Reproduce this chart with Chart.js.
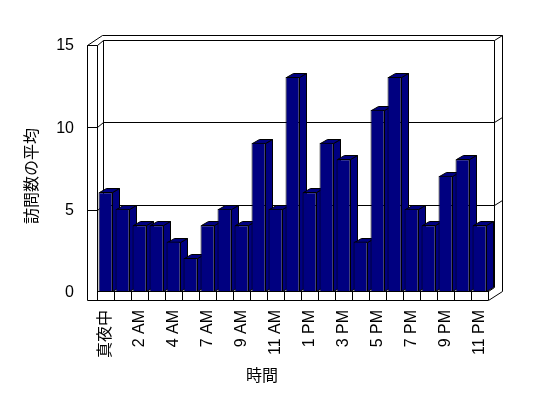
<!DOCTYPE html>
<html>
<head>
<meta charset="utf-8">
<script src="https://cdn.jsdelivr.net/npm/chart.js@4/dist/chart.umd.min.js"></script>
<style>
  html, body { margin: 0; padding: 0; background: #fff; }
  canvas { display: block; }
</style>
</head>
<body>
<canvas id="chart" width="548" height="398"></canvas>
<script>
// hours 0..23, 6 AM is missing in the source data
const hours = ["真夜中", "1 AM", "2 AM", "3 AM", "4 AM", "5 AM", "7 AM", "8 AM", "9 AM", "10 AM", "11 AM", "正午",
  "1 PM", "2 PM", "3 PM", "4 PM", "5 PM", "6 PM", "7 PM", "8 PM", "9 PM", "10 PM", "11 PM"];
const visits = [6, 5, 4, 4, 3, 2, 4, 5, 4, 9, 5, 13, 6, 9, 8, 3, 11, 13, 5, 4, 7, 8, 4];
const yTicks = [0, 5, 10, 15];

const BAR_COLOR = "#000080";
const FONT = '"Liberation Sans", "Noto Sans CJK JP", sans-serif';
const px = (v) => Math.round(v) + 0.5;

// walls, floor, back-wall gridlines and the depth faces of the bars
const frame3d = {
  id: "frame3d",
  beforeDatasetsDraw(chart) {
    const { ctx, chartArea: a, scales: { y } } = chart;
    const L = a.left, R = a.right, B = a.bottom, F = B + 9, W = L - 10;
    const back = (v) => y.getPixelForValue(v) - 4;
    const front = (v) => y.getPixelForValue(v) + 1;
    const outerTop = back(15) - 5;

    const line = (x1, y1, x2, y2) => {
      ctx.beginPath();
      ctx.moveTo(px(x1), px(y1));
      ctx.lineTo(px(x2), px(y2));
      ctx.stroke();
    };

    ctx.save();
    ctx.strokeStyle = "#000";
    ctx.lineWidth = 1;

    // left wall front face and floor front face
    line(W, front(15), W, F);
    line(L, front(15), L, B);
    line(W, F, R, F);
    line(W, front(15), L, front(15));
    // outer top edge
    line(W, front(15), W + 15, outerTop);
    line(W + 15, outerTop, R + 14, outerTop);
    line(R + 14, outerTop, R + 14, B);
    line(R, F, R + 14, B);
    line(R, B, R + 6, B - 4);
    // back wall edges
    line(L + 6, back(15), L + 6, back(0));
    line(R + 6, back(15), R + 6, back(0));

    yTicks.filter((v) => v > 0).forEach((v) => {
      line(W, front(v), L, front(v));
      line(L, front(v), L + 6, back(v));
      line(L + 6, back(v), R + 6, back(v));
      line(R + 6, back(v), R + 14, back(v) - 5);
    });

    // side and top faces of each bar
    const meta = chart.getDatasetMeta(0);
    ctx.fillStyle = BAR_COLOR;
    meta.data.forEach((bar) => {
      const { x, y: top, base, width } = bar.getProps(["x", "y", "base", "width"], true);
      const l = Math.round(x - width / 2), r = Math.round(x + width / 2);
      const t = Math.round(top), b = Math.round(base);
      ctx.beginPath();
      ctx.moveTo(r + 0.5, t + 0.5);
      ctx.lineTo(r + 7.5, t - 3.5);
      ctx.lineTo(r + 7.5, b - 3.5);
      ctx.lineTo(r + 0.5, b + 0.5);
      ctx.closePath();
      ctx.fill();
      ctx.stroke();
      ctx.beginPath();
      ctx.moveTo(l + 0.5, t + 0.5);
      ctx.lineTo(l + 7.5, t - 3.5);
      ctx.lineTo(r + 7.5, t - 3.5);
      ctx.lineTo(r + 0.5, t + 0.5);
      ctx.closePath();
      ctx.fill();
      ctx.stroke();
    });
    ctx.restore();
  },
  afterDraw(chart) {
    const { ctx } = chart;
    ctx.save();
    ctx.fillStyle = "#000";
    ctx.font = "16px " + FONT;
    ctx.textAlign = "center";
    ctx.textBaseline = "middle";
    ctx.fillText("時間", 262, 377);
    ctx.translate(33, 176);
    ctx.rotate(-Math.PI / 2);
    ctx.fillText("訪問数の平均", 0, 0);
    ctx.restore();
  },
};

new Chart(document.getElementById("chart"), {
  type: "bar",
  data: {
    labels: hours,
    datasets: [
      {
        data: visits,
        backgroundColor: BAR_COLOR,
        borderColor: "#000",
        borderWidth: 1,
        barPercentage: 0.82,
        categoryPercentage: 1,
      },
    ],
  },
  options: {
    responsive: false,
    animation: false,
    devicePixelRatio: 1,
    layout: { padding: { top: 44, right: 60, left: 0, bottom: 0 } },
    plugins: { legend: { display: false }, tooltip: { enabled: false } },
    scales: {
      x: {
        grid: { display: true, drawOnChartArea: false, drawTicks: true, tickLength: 9, color: "#000", offset: true },
        border: { display: true, color: "#000" },
        ticks: {
          autoSkip: false,
          minRotation: 90,
          maxRotation: 90,
          padding: 10,
          color: "#000",
          font: { family: FONT, size: 16 },
          callback: (v, i) => (i % 2 === 0 ? hours[i] : ""),
        },
        afterFit: (s) => { s.height = 107; },
      },
      y: {
        min: 0,
        max: 15,
        grid: { display: false, drawTicks: false },
        border: { display: false },
        ticks: { padding: 23, color: "#000", font: { family: FONT, size: 16 }, labelOffset: 2 },
        afterBuildTicks: (s) => { s.ticks = yTicks.map((v) => ({ value: v })); },
        afterFit: (s) => { s.width = 97; },
      },
    },
  },
  plugins: [frame3d],
});
</script>
</body>
</html>
